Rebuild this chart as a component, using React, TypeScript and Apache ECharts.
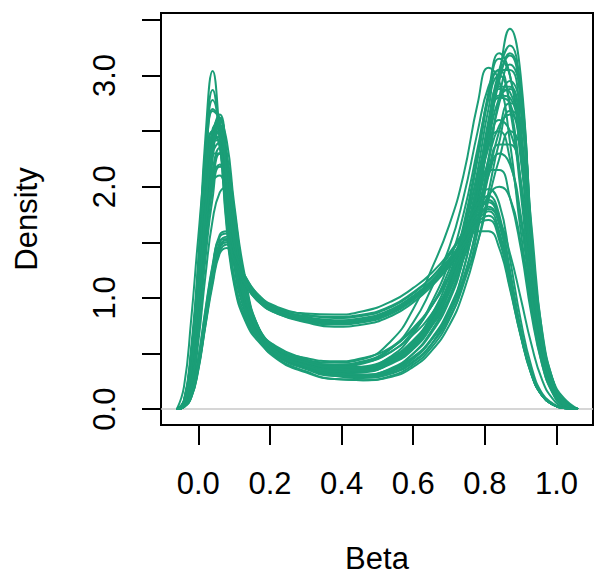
import React, { useEffect, useRef } from "react";
import * as echarts from "echarts";

// Shared x grid (Beta) for all density curves
const betaGrid = [-0.06, -0.04, -0.02, 0, 0.02, 0.04, 0.06, 0.08, 0.1, 0.13, 0.17, 0.22, 0.3, 0.38, 0.46, 0.54, 0.6, 0.65, 0.7, 0.74, 0.78, 0.81, 0.84, 0.87, 0.9, 0.93, 0.96, 0.99, 1.02, 1.06];

// Group A: tall bimodal curves with deep middle dip
const curveA1 = [0, 0.08, 0.55, 1.35, 2.45, 3.04, 2.45, 1.6, 1.12, 0.8, 0.6, 0.47, 0.37, 0.32, 0.33, 0.42, 0.57, 0.78, 1.08, 1.45, 1.95, 2.4, 2.8, 2.88, 2.5, 1.5, 0.7, 0.26, 0.07, 0];
const curveA2 = [0, 0.07, 0.5, 1.3, 2.35, 2.87, 2.4, 1.65, 1.15, 0.82, 0.62, 0.48, 0.38, 0.33, 0.34, 0.43, 0.6, 0.84, 1.2, 1.65, 2.3, 2.85, 3.2, 3.0, 2.3, 1.3, 0.6, 0.22, 0.06, 0];
const curveA3 = [0, 0.04, 0.3, 0.95, 1.8, 2.45, 2.65, 2.25, 1.6, 1.05, 0.68, 0.5, 0.38, 0.32, 0.31, 0.36, 0.47, 0.63, 0.9, 1.25, 1.85, 2.45, 3.0, 3.42, 3.0, 1.55, 0.6, 0.26, 0.1, 0];
const curveA4 = [0, 0.2, 0.8, 1.55, 2.2, 2.5, 2.35, 1.8, 1.3, 0.9, 0.66, 0.52, 0.44, 0.42, 0.45, 0.62, 0.9, 1.25, 1.65, 2.1, 2.75, 3.07, 2.95, 2.4, 1.6, 0.95, 0.45, 0.15, 0.04, 0];
const curveA5 = [0, 0.03, 0.22, 0.75, 1.55, 2.25, 2.6, 2.4, 1.85, 1.2, 0.72, 0.54, 0.4, 0.3, 0.28, 0.32, 0.42, 0.58, 0.85, 1.15, 1.5, 1.88, 2.25, 2.5, 2.35, 1.5, 0.62, 0.24, 0.07, 0];
const curveA6 = [0, 0.06, 0.4, 1.1, 1.95, 2.5, 2.5, 2.0, 1.45, 0.98, 0.66, 0.5, 0.39, 0.34, 0.35, 0.42, 0.55, 0.75, 1.05, 1.45, 2.05, 2.6, 3.05, 3.27, 2.85, 1.5, 0.55, 0.22, 0.07, 0];
const curveA7 = [0, 0.03, 0.25, 0.8, 1.5, 2.05, 2.3, 2.25, 1.8, 1.15, 0.7, 0.53, 0.42, 0.36, 0.36, 0.44, 0.58, 0.8, 1.12, 1.55, 2.15, 2.7, 3.05, 3.05, 2.55, 1.4, 0.55, 0.2, 0.05, 0];
const curveA8 = [0, 0.02, 0.15, 0.6, 1.2, 1.7, 1.95, 2.0, 1.75, 1.15, 0.72, 0.56, 0.45, 0.38, 0.38, 0.46, 0.6, 0.8, 1.1, 1.5, 2.05, 2.5, 2.8, 2.75, 2.3, 1.4, 0.65, 0.25, 0.07, 0];
const curveA9 = [0, 0.06, 0.42, 1.15, 2.1, 2.7, 2.6, 1.9, 1.3, 0.88, 0.64, 0.49, 0.4, 0.36, 0.38, 0.47, 0.62, 0.82, 1.1, 1.4, 1.8, 2.1, 2.3, 2.2, 1.75, 1.05, 0.45, 0.16, 0.04, 0];
const curveA10 = [0, 0.05, 0.35, 1.0, 1.85, 2.4, 2.45, 2.05, 1.5, 1.0, 0.64, 0.46, 0.34, 0.27, 0.26, 0.3, 0.4, 0.55, 0.8, 1.15, 1.7, 2.25, 2.75, 2.95, 2.7, 1.55, 0.6, 0.24, 0.08, 0];
const curveA11 = [0, 0.05, 0.38, 1.05, 1.9, 2.5, 2.6, 2.1, 1.5, 1.0, 0.68, 0.52, 0.41, 0.35, 0.36, 0.45, 0.6, 0.82, 1.15, 1.6, 2.25, 2.8, 3.15, 3.0, 2.35, 1.35, 0.55, 0.2, 0.05, 0];
const curveA12 = [0, 0.05, 0.35, 0.95, 1.65, 2.1, 2.2, 1.95, 1.5, 1.05, 0.72, 0.55, 0.43, 0.37, 0.37, 0.44, 0.56, 0.74, 1.0, 1.35, 1.85, 2.25, 2.55, 2.65, 2.4, 1.5, 0.6, 0.24, 0.07, 0];
const curveA13 = [0, 0.03, 0.25, 0.82, 1.65, 2.3, 2.55, 2.3, 1.7, 1.1, 0.7, 0.5, 0.37, 0.3, 0.29, 0.34, 0.45, 0.62, 0.88, 1.25, 1.85, 2.45, 2.95, 3.2, 2.9, 1.6, 0.58, 0.22, 0.06, 0];
const curveA14 = [0, 0.07, 0.48, 1.25, 2.25, 2.78, 2.5, 1.75, 1.2, 0.85, 0.63, 0.5, 0.42, 0.39, 0.42, 0.52, 0.67, 0.85, 1.1, 1.35, 1.7, 1.92, 2.0, 1.9, 1.5, 0.9, 0.4, 0.14, 0.03, 0];
const curveA15 = [0, 0.06, 0.4, 1.05, 1.8, 2.3, 2.3, 1.85, 1.35, 0.95, 0.68, 0.52, 0.43, 0.4, 0.43, 0.55, 0.72, 0.92, 1.2, 1.5, 1.9, 2.15, 2.15, 1.9, 1.45, 0.85, 0.4, 0.14, 0.03, 0];
const curveA16 = [0, 0.04, 0.3, 0.9, 1.75, 2.45, 2.62, 2.2, 1.6, 1.05, 0.68, 0.5, 0.38, 0.31, 0.3, 0.35, 0.46, 0.62, 0.86, 1.18, 1.65, 2.1, 2.5, 2.75, 2.7, 1.5, 0.62, 0.24, 0.07, 0];
const curveA17 = [0, 0.05, 0.33, 0.95, 1.75, 2.3, 2.4, 2.0, 1.45, 0.98, 0.66, 0.5, 0.4, 0.35, 0.37, 0.48, 0.68, 0.95, 1.32, 1.75, 2.35, 2.8, 3.0, 2.75, 2.05, 1.15, 0.5, 0.18, 0.05, 0];
const curveA18 = [0, 0.04, 0.3, 0.9, 1.75, 2.4, 2.55, 2.15, 1.55, 1.02, 0.67, 0.48, 0.36, 0.3, 0.3, 0.36, 0.5, 0.7, 1.0, 1.38, 1.95, 2.45, 2.82, 2.8, 2.25, 1.3, 0.55, 0.2, 0.06, 0];
const curveA19 = [0, 0.03, 0.22, 0.72, 1.45, 2.0, 2.3, 2.2, 1.7, 1.1, 0.7, 0.5, 0.38, 0.31, 0.29, 0.33, 0.43, 0.58, 0.82, 1.12, 1.6, 2.2, 2.8, 3.1, 2.85, 1.55, 0.58, 0.22, 0.06, 0];
const curveA20 = [0, 0.05, 0.36, 1.02, 1.9, 2.5, 2.62, 2.15, 1.55, 1.02, 0.68, 0.5, 0.39, 0.33, 0.34, 0.42, 0.57, 0.78, 1.08, 1.45, 1.95, 2.35, 2.6, 2.5, 2.05, 1.25, 0.55, 0.2, 0.05, 0];
const curveA21 = [0, 0.03, 0.2, 0.68, 1.35, 1.9, 2.18, 2.15, 1.75, 1.15, 0.72, 0.52, 0.4, 0.34, 0.34, 0.41, 0.54, 0.74, 1.05, 1.45, 2.0, 2.55, 2.9, 2.9, 2.45, 1.4, 0.58, 0.21, 0.06, 0];
const curveA22 = [0, 0.06, 0.4, 1.1, 1.95, 2.45, 2.4, 1.9, 1.38, 0.95, 0.66, 0.5, 0.4, 0.35, 0.36, 0.44, 0.58, 0.78, 1.05, 1.38, 1.8, 2.15, 2.38, 2.38, 2.05, 1.3, 0.6, 0.22, 0.06, 0];
const curveA23 = [0, 0.08, 0.5, 1.2, 1.95, 2.4, 2.42, 1.95, 1.4, 0.95, 0.66, 0.51, 0.42, 0.38, 0.41, 0.55, 0.78, 1.08, 1.45, 1.9, 2.5, 2.9, 3.05, 2.7, 1.95, 1.05, 0.45, 0.16, 0.04, 0];
const curveA24 = [0, 0.04, 0.28, 0.85, 1.6, 2.15, 2.35, 2.15, 1.62, 1.08, 0.7, 0.51, 0.39, 0.32, 0.31, 0.37, 0.5, 0.68, 0.97, 1.35, 1.95, 2.55, 3.0, 3.18, 2.75, 1.5, 0.56, 0.21, 0.06, 0];
const curveA25 = [0, 0.05, 0.36, 1.02, 1.9, 2.52, 2.55, 2.05, 1.45, 0.95, 0.63, 0.45, 0.33, 0.27, 0.26, 0.29, 0.38, 0.52, 0.75, 1.05, 1.5, 1.95, 2.4, 2.68, 2.6, 1.65, 0.68, 0.26, 0.07, 0];
const curveA26 = [0, 0.06, 0.38, 1.0, 1.65, 2.05, 2.1, 1.8, 1.38, 0.98, 0.7, 0.54, 0.44, 0.4, 0.42, 0.52, 0.7, 0.92, 1.25, 1.62, 2.1, 2.42, 2.5, 2.25, 1.7, 1.0, 0.45, 0.16, 0.04, 0];
const curveA27 = [0, 0.07, 0.45, 1.18, 2.1, 2.68, 2.6, 1.95, 1.35, 0.9, 0.64, 0.49, 0.39, 0.34, 0.35, 0.43, 0.57, 0.77, 1.08, 1.48, 2.05, 2.55, 2.88, 2.85, 2.35, 1.35, 0.56, 0.2, 0.05, 0];
const curveA28 = [0, 0.05, 0.35, 1.0, 1.8, 2.38, 2.5, 2.05, 1.5, 1.02, 0.7, 0.54, 0.46, 0.43, 0.46, 0.56, 0.73, 0.92, 1.18, 1.45, 1.72, 1.8, 1.7, 1.4, 1.0, 0.58, 0.26, 0.09, 0.02, 0];

// Group B: flatter curves with a high middle plateau
const curveB1 = [0, 0.02, 0.12, 0.4, 0.82, 1.22, 1.5, 1.55, 1.38, 1.18, 1.0, 0.9, 0.83, 0.8, 0.82, 0.9, 1.02, 1.15, 1.32, 1.5, 1.7, 1.78, 1.6, 1.15, 0.68, 0.32, 0.12, 0.04, 0.01, 0];
const curveB2 = [0, 0.02, 0.1, 0.35, 0.75, 1.12, 1.4, 1.45, 1.3, 1.12, 0.96, 0.86, 0.78, 0.74, 0.76, 0.84, 0.96, 1.1, 1.28, 1.45, 1.6, 1.6, 1.45, 1.08, 0.66, 0.33, 0.13, 0.04, 0.01, 0];
const curveB3 = [0, 0.03, 0.14, 0.45, 0.88, 1.28, 1.55, 1.58, 1.4, 1.2, 1.02, 0.92, 0.85, 0.82, 0.84, 0.92, 1.04, 1.18, 1.38, 1.58, 1.8, 1.92, 1.75, 1.25, 0.72, 0.33, 0.12, 0.04, 0.01, 0];
const curveB4 = [0, 0.02, 0.11, 0.38, 0.78, 1.17, 1.45, 1.5, 1.34, 1.14, 0.97, 0.87, 0.8, 0.77, 0.79, 0.87, 0.99, 1.12, 1.3, 1.48, 1.66, 1.7, 1.52, 1.1, 0.66, 0.31, 0.12, 0.04, 0.01, 0];
const curveB5 = [0, 0.02, 0.13, 0.42, 0.85, 1.25, 1.52, 1.53, 1.36, 1.16, 0.99, 0.89, 0.84, 0.83, 0.85, 0.93, 1.05, 1.18, 1.35, 1.52, 1.72, 1.82, 1.66, 1.2, 0.7, 0.32, 0.12, 0.04, 0.01, 0];
const curveB6 = [0, 0.02, 0.1, 0.36, 0.76, 1.15, 1.42, 1.48, 1.33, 1.15, 0.98, 0.88, 0.81, 0.78, 0.8, 0.88, 1.0, 1.14, 1.32, 1.52, 1.75, 1.88, 1.72, 1.22, 0.7, 0.32, 0.12, 0.04, 0.01, 0];
const curveB7 = [0, 0.03, 0.15, 0.46, 0.9, 1.3, 1.57, 1.6, 1.42, 1.2, 1.02, 0.91, 0.86, 0.85, 0.88, 0.97, 1.09, 1.22, 1.4, 1.6, 1.85, 1.98, 1.85, 1.35, 0.8, 0.38, 0.14, 0.05, 0.01, 0];
const curveB8 = [0, 0.02, 0.11, 0.37, 0.78, 1.18, 1.47, 1.52, 1.36, 1.16, 0.99, 0.89, 0.82, 0.79, 0.81, 0.89, 1.01, 1.15, 1.34, 1.54, 1.78, 1.86, 1.68, 1.2, 0.7, 0.32, 0.12, 0.04, 0.01, 0];
const curveB9 = [0, 0.02, 0.12, 0.4, 0.8, 1.2, 1.48, 1.5, 1.33, 1.13, 0.96, 0.86, 0.79, 0.76, 0.78, 0.86, 0.98, 1.12, 1.3, 1.48, 1.68, 1.74, 1.56, 1.12, 0.67, 0.31, 0.12, 0.04, 0.01, 0];

const allCurves = [
  curveA1, curveA2, curveA3, curveA4, curveA5, curveA6, curveA7, curveA8,
  curveA9, curveA10, curveA11, curveA12, curveA13, curveA14, curveA15, curveA16,
  curveA17, curveA18, curveA19, curveA20, curveA21, curveA22, curveA23, curveA24,
  curveA25, curveA26, curveA27, curveA28,
  curveB1, curveB2, curveB3, curveB4, curveB5, curveB6, curveB7, curveB8, curveB9,
];

const xTickValues = [0, 0.2, 0.4, 0.6, 0.8, 1.0];
const yTickValues = [0, 0.5, 1.0, 1.5, 2.0, 2.5, 3.0, 3.5];
const yLabelValues = [0, 1.0, 2.0, 3.0];

const X_MIN = -0.1041;
const X_MAX = 1.1018;
const Y_MIN = -0.1429;
const Y_MAX = 3.5625;

const FONT = "'Liberation Sans', Arial, Helvetica, sans-serif";
const GREEN = "#1b9e77";

export default function App() {
  const ref = useRef<HTMLDivElement>(null);

  useEffect(() => {
    if (!ref.current) return;
    const chart = echarts.init(ref.current, undefined, { renderer: "svg" });

    const series: any[] = allCurves.map((ys, i) => ({
      type: "line",
      data: betaGrid.map((x, j) => [x, ys[j]]),
      showSymbol: false,
      smooth: 0.5,
      lineStyle: { color: GREEN, width: 2 },
      silent: true,
      z: 3,
      ...(i === 0
        ? {
            markLine: {
              silent: true,
              symbol: ["none", "none"],
              label: { show: false },
              z: 1,
              lineStyle: { color: "#c8c8c8", width: 1.5, type: "solid" },
              data: [{ yAxis: 0 }],
            },
          }
        : {}),
    }));

    chart.setOption({
      animation: false,
      backgroundColor: "#ffffff",
      grid: {
        left: 161,
        right: 1,
        top: 13,
        bottom: 151,
        show: true,
        borderColor: "#000",
        borderWidth: 2,
        backgroundColor: "transparent",
        containLabel: false,
      },
      xAxis: {
        type: "value",
        min: X_MIN,
        max: X_MAX,
        name: "Beta",
        nameLocation: "middle",
        nameGap: 118,
        nameTextStyle: { fontSize: 31, fontFamily: FONT, color: "#000" },
        axisLine: { show: false, onZero: false },
        splitLine: { show: false },
        axisTick: {
          show: true,
          inside: false,
          length: 20,
          customValues: xTickValues,
          lineStyle: { color: "#000", width: 2 },
        },
        axisLabel: {
          customValues: xTickValues,
          formatter: (v: number) => v.toFixed(1),
          fontSize: 31,
          fontFamily: FONT,
          color: "#000",
          margin: 43,
        },
      },
      yAxis: {
        type: "value",
        min: Y_MIN,
        max: Y_MAX,
        name: "Density",
        nameLocation: "middle",
        nameGap: 119,
        nameRotate: 90,
        nameTextStyle: { fontSize: 31, fontFamily: FONT, color: "#000" },
        axisLine: { show: false, onZero: false },
        splitLine: { show: false },
        axisTick: {
          show: true,
          inside: false,
          length: 19,
          customValues: yTickValues,
          lineStyle: { color: "#000", width: 2 },
        },
        axisLabel: {
          customValues: yLabelValues,
          formatter: (v: number) => v.toFixed(1),
          rotate: 90,
          fontSize: 31,
          fontFamily: FONT,
          color: "#000",
          margin: 41,
        },
      },
      series,
    });

    return () => chart.dispose();
  }, []);

  return (
    <div
      ref={ref}
      style={{ position: "absolute", left: 0, top: 0, width: 594, height: 579 }}
    />
  );
}
